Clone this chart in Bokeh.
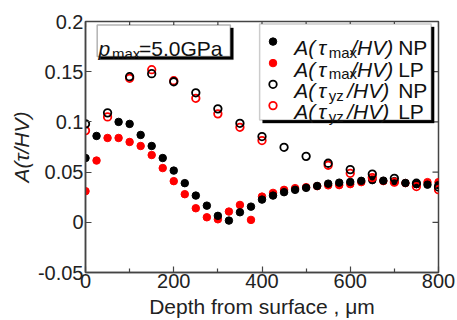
import math
from bokeh.plotting import figure
from bokeh.models import Range1d, FixedTicker, Label, BoxAnnotation
from bokeh.embed import file_html
from bokeh.resources import INLINE

# ---------------- data ----------------
depth_max_np = [0, 25, 75, 100, 125, 150, 175, 200, 225, 250, 275, 300, 325, 350, 375,
                400, 425, 450, 475, 500, 525, 550, 575, 600, 625, 650, 675, 700, 725,
                750, 775, 800]
tmax_np = [0.064, 0.086, 0.100, 0.098, 0.087, 0.076, 0.064, 0.0515, 0.039, 0.0266,
           0.0166, 0.0064, 0.0017, 0.010, 0.0156, 0.0226, 0.0266, 0.030, 0.0323, 0.0343,
           0.0362, 0.0385, 0.0395, 0.0402, 0.0413, 0.042, 0.0415, 0.041, 0.0392, 0.038,
           0.0375, 0.037]

depth_max_lp = [0, 25, 50, 75, 100, 125, 150, 175, 200, 225, 250, 275, 300, 325, 350,
                375, 400, 425, 450, 475, 500, 525, 550, 575, 600, 625, 650, 675, 700,
                725, 750, 775, 800]
tmax_lp = [0.031, 0.0615, 0.084, 0.084, 0.080, 0.076, 0.067, 0.054, 0.041, 0.028, 0.014,
           0.005, 0.003, 0.0107, 0.0173, 0.0024, 0.0256, 0.0293, 0.0323, 0.034, 0.035,
           0.036, 0.0368, 0.037, 0.038, 0.040, 0.043, 0.041, 0.040, 0.039, 0.038, 0.040,
           0.040]

depth_yz_np = [0, 50, 100, 150, 200, 250, 300, 350, 400, 450, 500, 550, 600, 650, 700,
               750, 800]
tyz_np = [0.098, 0.109, 0.145, 0.148, 0.140, 0.129, 0.113, 0.0986, 0.0854, 0.0747,
          0.0657, 0.0588, 0.0525, 0.048, 0.0438, 0.0389, 0.0352]

depth_yz_lp = [0, 50, 100, 150, 200, 250, 300, 350, 400, 550, 600, 650, 700, 750, 800]
tyz_lp = [0.0913, 0.105, 0.1434, 0.152, 0.141, 0.1235, 0.108, 0.0946, 0.0814, 0.0568,
          0.0488, 0.0445, 0.040, 0.0356, 0.0325]

x_ticks = [0, 200, 400, 600, 800]
x_minor = [100, 300, 500, 700]
y_ticks = [-0.05, 0, 0.05, 0.1, 0.15, 0.2]
y_tick_labels = ["-0.05", "0", "0.05", "0.1", "0.15", "0.2"]

X_MIN, X_MAX = 0, 800
Y_MIN, Y_MAX = -0.05, 0.2

FONT = "Liberation Sans"
AX = "#444444"

p = figure(width=457, height=320, x_range=Range1d(X_MIN, X_MAX), y_range=Range1d(Y_MIN, Y_MAX),
           output_backend="svg", toolbar_location=None,
           min_border_left=85, min_border_right=19, min_border_top=21, min_border_bottom=48)
p.grid.visible = False
p.outline_line_color = AX
p.outline_line_width = 1.5
p.background_fill_color = "white"

xa = p.xaxis[0]
xa.ticker = FixedTicker(ticks=x_ticks, minor_ticks=x_minor)
xa.axis_label = "Depth from surface , \u03bcm"
ya = p.yaxis[0]
ya.ticker = FixedTicker(ticks=y_ticks)
ya.major_label_overrides = {t: s for t, s in zip(y_ticks, y_tick_labels)}
ya.axis_label = "A(\u03c4/HV)"
ya.axis_label_text_font_style = "italic"

for ax in [xa, ya]:
    ax.axis_line_color = AX
    ax.axis_line_width = 1.5
    ax.major_tick_line_color = AX
    ax.minor_tick_line_color = AX
    ax.major_tick_line_width = 1.2
    ax.minor_tick_line_width = 1.2
    ax.major_tick_in = 6
    ax.major_tick_out = 0
    ax.minor_tick_in = 4
    ax.minor_tick_out = 0
    ax.major_label_text_font = FONT
    ax.major_label_text_font_size = "20px"
    ax.major_label_text_color = "#222222"
    ax.major_label_standoff = 2
    ax.axis_label_text_font = FONT
    ax.axis_label_text_font_size = "21px"
    ax.axis_label_text_color = "#222222"
    ax.axis_label_standoff = 2
ya.minor_tick_line_color = None
xa.major_label_standoff = 1
xa.axis_label_standoff = 4
xa.axis_label_text_font_style = "normal"

# mirrored inward ticks on top and right edges (outer half clipped by the frame)
p.scatter(x_ticks + x_minor, [Y_MAX] * len(x_ticks + x_minor), marker="dash", size=11,
          angle=math.pi / 2, line_color=AX, line_width=1.2)
p.scatter([X_MAX] * len(y_ticks), y_ticks, marker="dash", size=12, line_color=AX, line_width=1.2)

# data points
p.scatter(depth_max_lp, tmax_lp, size=7.5, marker="circle", fill_color="#ff0000", line_color="#ff0000")
p.scatter(depth_max_np, tmax_np, size=7.5, marker="circle", fill_color="black", line_color="black")
p.scatter(depth_yz_lp, tyz_lp, size=7.5, marker="circle", fill_color=None, line_color="#ff0000", line_width=1.8)
p.scatter(depth_yz_np, tyz_np, size=7.5, marker="circle", fill_color=None, line_color="black", line_width=1.8)

# helpers: page pixel -> data coordinates (annotation placement only)
def X(px):
    return (px - 85.0) / 0.4417

def Y(py):
    return (221.7 - py) / 1004.0

def lab(text, px, py, size="21px", style="normal", color="#111111", align="left"):
    p.add_layout(Label(x=X(px), y=Y(py), text=text, text_font=FONT, text_font_size=size,
                       text_font_style=style, text_color=color,
                       text_align=align, text_baseline="alphabetic"))

# p_max box
p.add_layout(BoxAnnotation(left=X(99.7), right=X(233), top=Y(27.3), bottom=Y(59),
                           fill_color="black", fill_alpha=1, line_color="black", line_width=1))
p.add_layout(BoxAnnotation(left=X(96.7), right=X(230), top=Y(24.3), bottom=Y(56),
                           fill_color="white", fill_alpha=1, line_color="black", line_width=1.5))

lab("p", 98, 47.7, style="italic")
lab("max", 111.5, 52.5, size="15px")
lab("=5.0GPa", 138.5, 47.7)

# legend box
p.add_layout(BoxAnnotation(left=X(262.3), right=X(434), top=Y(26.3), bottom=Y(122.5),
                           fill_color="black", fill_alpha=1, line_color="black", line_width=1))
p.add_layout(BoxAnnotation(left=X(259.3), right=X(431), top=Y(23.3), bottom=Y(119.5),
                           fill_color="white", fill_alpha=1, line_color="#555555", line_width=1.5))

rows = [
    ("max", "NP", "black", "black", 47.3),
    ("max", "LP", "#ff0000", "#ff0000", 68.8),
    ("yz", "NP", None, "black", 90.0),
    ("yz", "LP", None, "#ff0000", 111.3),
]
for sub, tag, fc, lc, base in rows:
    p.scatter([X(272.7)], [Y(base - 6.3)], size=7.5, marker="circle", level="overlay",
              fill_color=fc, line_color=lc, line_width=1.8 if fc is None else 1)
    lab("A(", 294, base, style="italic")
    lab("\u03c4", 318, base, style="italic")
    if sub == "max":
        lab("max", 328.5, base + 4.5, size="15px")
        lab("/HV)", 351, base, style="italic")
    else:
        lab("yz", 328.5, base + 4.5, size="15px")
        lab("/HV)", 347, base, style="italic")
    lab(tag, 398, base)

open("out.html", "w").write(file_html(p, INLINE))
